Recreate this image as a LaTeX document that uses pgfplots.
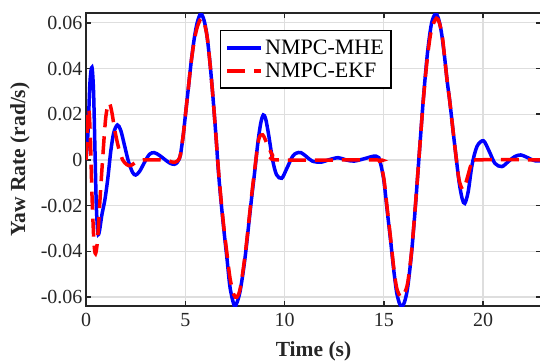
\documentclass[border=0pt]{standalone}
\usepackage{pgfplots}
\pgfplotsset{compat=1.18}
\usepackage{fontspec}
\setmainfont{Liberation Serif}
\definecolor{axgray}{RGB}{38,38,38}
\definecolor{gridgray}{RGB}{222,222,222}
\begin{document}
\begin{tikzpicture}[x=1pt,y=1pt]
\useasboundingbox (0,0) rectangle (540,362);
\begin{axis}[
  at={(86pt,56pt)}, anchor=south west,
  scale only axis, width=455pt, height=293pt,
  xmin=0, xmax=22.92, ymin=-0.0639, ymax=0.0643,
  scaled y ticks=false, scaled x ticks=false,
  xtick={0,5,10,15,20}, xticklabels={0,5,10,15,20},
  ytick={-0.06,-0.04,-0.02,0,0.02,0.04,0.06},
  yticklabels={-0.06,-0.04,-0.02,0,0.02,0.04,0.06},
  tick align=inside, major tick length=5pt,
  tick style={axgray, line width=1.5pt},
  axis line style={axgray, line width=2pt},
  grid=major, major grid style={gridgray, line width=1.3pt},
  ticklabel style={font=\fontsize{20}{24}\selectfont, text=axgray},
  xticklabel style={yshift=-4pt},
  xlabel={\textbf{Time (s)}}, ylabel={\textbf{Yaw Rate (rad/s)}},
  label style={font=\fontsize{21.5}{25}\selectfont, text=axgray},
  xlabel style={at={(axis description cs:0.5,-0.155)}, anchor=center},
  ylabel style={at={(axis description cs:-0.145,0.5)}, anchor=center},
  legend style={at={(0.2945,0.942)}, anchor=north west, draw=black, line width=1.5pt,
    font=\fontsize{22}{26}\selectfont, inner xsep=5pt, inner ysep=7pt, row sep=3pt},
  legend cell align=left,
  legend image code/.code={\draw[#1, line width=3.5pt] (0pt,0pt) -- (34pt,0pt);},
  clip=true,
]
\addplot[blue, line width=3.5pt, smooth, tension=0.5] coordinates {
(0,0) (0.1,0.012) (0.2,0.034) (0.3,0.0405) (0.38,0.03) (0.45,0.005) (0.52,-0.02) (0.6,-0.032) (0.68,-0.031)
(0.8,-0.024) (0.95,-0.0175) (1.1,-0.008) (1.25,0.004) (1.4,0.012) (1.58,0.0153) (1.75,0.013) (1.95,0.006)
(2.15,-0.001) (2.35,-0.0055) (2.5,-0.0066) (2.7,-0.005) (2.95,-0.001) (3.2,0.0025) (3.44,0.0032) (3.7,0.002)
(4.0,0.0) (4.25,-0.0015) (4.45,-0.0019) (4.6,-0.001) (4.75,0.002) (4.9,0.011) (5.0,0.019) (5.15,0.031)
(5.3,0.043) (5.45,0.053) (5.6,0.060) (5.78,0.064) (5.95,0.061) (6.1,0.054) (6.25,0.042) (6.4,0.027)
(6.55,0.010) (6.67,-0.005) (6.8,-0.018) (6.95,-0.031) (7.1,-0.043) (7.26,-0.056) (7.47,-0.0638)
(7.6,-0.0625) (7.75,-0.058) (7.9,-0.050) (8.05,-0.040) (8.2,-0.028) (8.35,-0.016) (8.5,-0.005)
(8.65,0.007) (8.8,0.016) (8.93,0.0197) (9.05,0.018) (9.2,0.011) (9.4,0.0) (9.6,-0.0065) (9.86,-0.008)
(10.1,-0.004) (10.4,0.0015) (10.6,0.003) (10.83,0.0032) (11.1,0.0015) (11.4,-0.0005) (11.84,-0.001)
(12.2,0.0) (12.7,0.001) (13.1,0.0) (13.5,-0.0005) (14.0,0.0005) (14.4,0.0015) (14.6,0.0017) (14.75,0.001)
(14.85,-0.002) (15.0,-0.0087) (15.17,-0.022) (15.34,-0.035) (15.5,-0.048) (15.65,-0.058) (15.8,-0.063)
(15.93,-0.064) (16.05,-0.062) (16.2,-0.056) (16.4,-0.0406) (16.6,-0.0195) (16.8,0.0042) (17.0,0.0274)
(17.2,0.0467) (17.4,0.0595) (17.6,0.064) (17.75,0.062) (17.9,0.056) (18.05,0.046) (18.2,0.034)
(18.32,0.026) (18.5,0.012) (18.66,0.0) (18.8,-0.010) (18.95,-0.017) (19.08,-0.019) (19.25,-0.014)
(19.45,-0.002) (19.7,0.006) (20.02,0.0084) (20.3,0.004) (20.6,-0.0015) (20.95,-0.0029) (21.3,-0.0005)
(21.6,0.0015) (21.9,0.0022) (22.2,0.0012) (22.65,-0.0004) (23.2,0.0)
};
\addlegendentry{NMPC-MHE}
\addplot[red, line width=3.5pt, dash pattern=on 18pt off 9pt, smooth, tension=0.5] coordinates {
(0,0) (0.05,0.008) (0.1,0.02) (0.15,0.022) (0.22,0.01) (0.3,-0.015) (0.4,-0.036) (0.48,-0.041)
(0.58,-0.035) (0.7,-0.018) (0.85,0.002) (1.0,0.019) (1.16,0.025) (1.3,0.021) (1.45,0.013) (1.65,0.005)
(1.85,0.0) (2.05,-0.002) (2.25,-0.0025) (2.5,-0.001) (2.8,0) (4.0,0) (4.2,-0.0005) (4.4,-0.001)
(4.6,-0.0005) (4.75,0.002) (4.9,0.011) (5.0,0.019) (5.15,0.031) (5.3,0.043) (5.45,0.052) (5.6,0.058)
(5.8,0.062) (5.95,0.060) (6.1,0.054) (6.25,0.042) (6.4,0.027) (6.55,0.010) (6.67,-0.004) (6.8,-0.017)
(6.95,-0.030) (7.1,-0.041) (7.26,-0.052) (7.45,-0.059) (7.6,-0.060) (7.75,-0.057) (7.9,-0.049)
(8.05,-0.039) (8.2,-0.027) (8.35,-0.015) (8.5,-0.004) (8.7,0.009) (8.9,0.011) (9.1,0.0075) (9.4,0.002)
(9.7,0.0) (14.6,0) (14.8,-0.001) (15.0,-0.008) (15.17,-0.021) (15.34,-0.034) (15.5,-0.047)
(15.65,-0.056) (15.85,-0.060) (16.0,-0.059) (16.2,-0.054) (16.4,-0.040) (16.6,-0.019) (16.8,0.004)
(17.0,0.027) (17.2,0.045) (17.4,0.057) (17.65,0.062) (17.8,0.060) (17.95,0.054) (18.05,0.046)
(18.2,0.034) (18.32,0.026) (18.5,0.012) (18.66,0.0) (18.8,-0.009) (19.0,-0.013) (19.2,-0.008)
(19.4,-0.002) (19.6,0) (23.2,0)
};
\addlegendentry{NMPC-EKF}
\end{axis}
\end{tikzpicture}
\end{document}
